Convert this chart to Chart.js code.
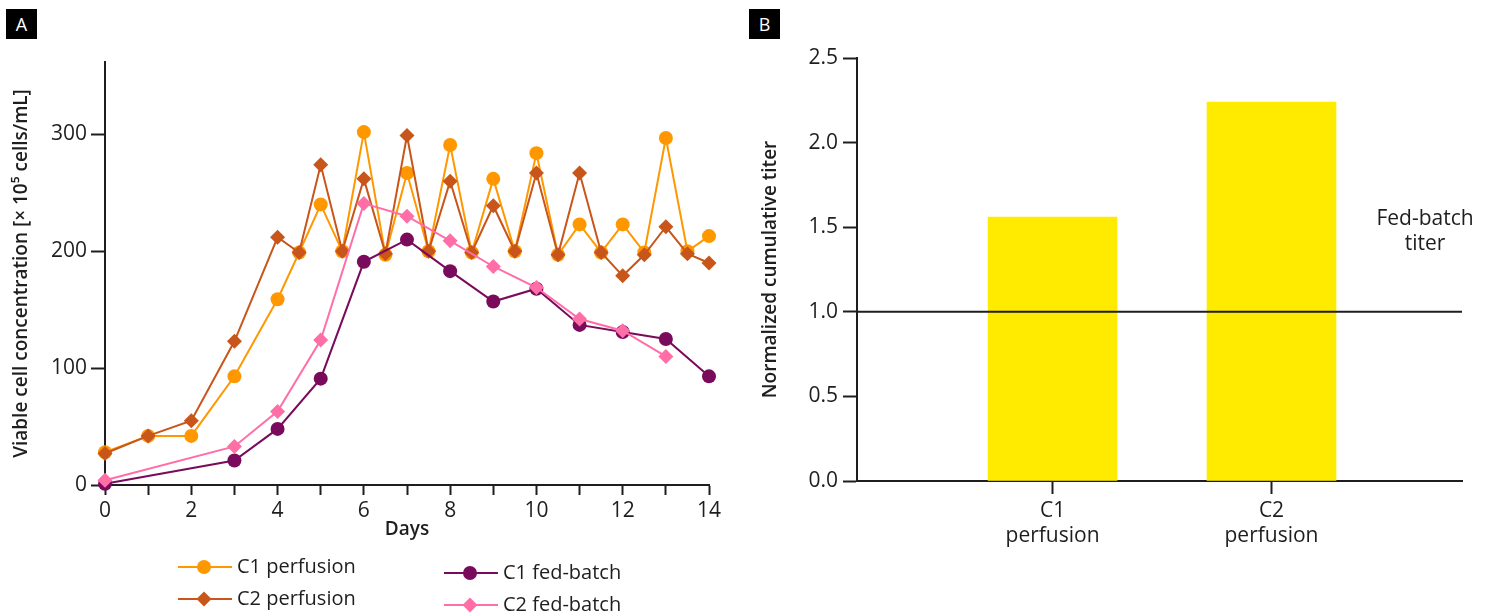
<!DOCTYPE html>
<html>
<head>
<meta charset="utf-8">
<script src="https://cdn.jsdelivr.net/npm/chart.js@4.4.1/dist/chart.umd.min.js"></script>
<style>
  body { margin: 0; background: #fff; width: 1491px; height: 614px; position: relative; overflow: hidden; }
  canvas { position: absolute; top: 0; }
  #chartA { left: 0; }
  #chartB { left: 740px; }
  .tag { position: absolute; top: 9px; width: 31px; height: 30px; background: #000; color: #fff;
         font: 18px "Open Sans", sans-serif; display: flex; align-items: center; justify-content: center; }
</style>
</head>
<body>
<div class="tag" style="left:6px">A</div>
<div class="tag" style="left:749px">B</div>
<canvas id="chartA" width="740" height="614"></canvas>
<canvas id="chartB" width="751" height="614"></canvas>
<script>
// A: viable cell concentration over culture time (x 10^5 cells/mL)
const perfusionDays = [0, 1, 2, 3, 4, 4.5, 5, 5.5, 6, 6.5, 7, 7.5, 8, 8.5, 9, 9.5, 10, 10.5, 11, 11.5, 12, 12.5, 13, 13.5, 14];
const c1Perfusion = [28, 42, 42, 93, 159, 199, 240, 200, 302, 197, 267, 200, 291, 199, 262, 200, 284, 197, 223, 199, 223, 199, 297, 200, 213];
const c2Perfusion = [27, 42, 55, 123, 212, 199, 274, 200, 262, 198, 299, 200, 260, 199, 239, 200, 267, 197, 267, 199, 179, 197, 221, 198, 190];
const c1FedBatchDays = [0, 3, 4, 5, 6, 7, 8, 9, 10, 11, 12, 13, 14];
const c1FedBatch = [1, 21, 48, 91, 191, 210, 183, 157, 168, 137, 131, 125, 93];
const c2FedBatchDays = [0, 3, 4, 5, 6, 7, 8, 9, 10, 11, 12, 13];
const c2FedBatch = [4, 33, 63, 124, 241, 230, 209, 187, 169, 142, 132, 110];
const vccTicks = [0, 100, 200, 300];

// B: cumulative titer normalised to fed-batch
const processes = ['C1 perfusion', 'C2 perfusion'];
const normalizedTiter = [1.56, 2.24];
const fedBatchTiter = 1.0;
const titerTicks = [0, 0.5, 1, 1.5, 2, 2.5];

const ink = '#1e1e1e';
const face = '"Open Sans", "Noto Sans", sans-serif';
Chart.defaults.font.family = face;
Chart.defaults.color = ink;

function series(label, xs, ys, color, style, radius, order) {
  return {
    label: label,
    data: xs.map((x, i) => ({ x: x, y: ys[i] })),
    borderColor: color,
    backgroundColor: color,
    pointBackgroundColor: color,
    borderWidth: 2,
    pointStyle: style,
    pointRadius: radius,
    pointBorderWidth: 0,
    tension: 0,
    clip: false,
    order: order
  };
}

// legend in two staggered columns under the x axis
const seriesLegend = {
  id: 'seriesLegend',
  afterDraw(chart, args, opts) {
    const ctx = chart.ctx;
    ctx.save();
    chart.data.datasets.forEach((ds, i) => {
      const s = opts.slots[i];
      ctx.strokeStyle = ds.borderColor;
      ctx.lineWidth = ds.borderWidth;
      ctx.beginPath();
      ctx.moveTo(s.x, s.y);
      ctx.lineTo(s.x + 54, s.y);
      ctx.stroke();
      ctx.fillStyle = ds.pointBackgroundColor;
      Chart.helpers.drawPoint(ctx, { pointStyle: ds.pointStyle, radius: ds.pointRadius, borderWidth: 0, rotation: 0 }, s.x + 26, s.y);
      ctx.fillStyle = ink;
      ctx.font = '20px ' + face;
      ctx.textBaseline = 'middle';
      ctx.fillText(ds.label, s.x + 59, s.y);
    });
    ctx.restore();
  }
};

new Chart(document.getElementById('chartA'), {
  type: 'line',
  data: {
    datasets: [
      series('C1 perfusion', perfusionDays, c1Perfusion, '#FF9800', 'circle', 7, 4),
      series('C2 perfusion', perfusionDays, c2Perfusion, '#C8551A', 'rectRot', 7.5, 3),
      series('C1 fed-batch', c1FedBatchDays, c1FedBatch, '#7A0A5C', 'circle', 7, 2),
      series('C2 fed-batch', c2FedBatchDays, c2FedBatch, '#FF6EA6', 'rectRot', 7.5, 1)
    ]
  },
  options: {
    responsive: false,
    animation: false,
    events: [],
    layout: { padding: { top: 62, right: 31, bottom: 73, left: 0 } },
    plugins: {
      legend: { display: false },
      tooltip: { enabled: false },
      seriesLegend: {
        slots: [{ x: 178, y: 567 }, { x: 178, y: 599 }, { x: 444, y: 573 }, { x: 444, y: 605 }]
      }
    },
    scales: {
      x: {
        type: 'linear',
        min: 0,
        max: 14,
        afterFit: s => { s.height = 56; },
        grid: { drawOnChartArea: false, tickLength: 10, tickWidth: 2, tickColor: ink },
        border: { color: ink, width: 2 },
        ticks: {
          stepSize: 1, autoSkip: false, maxRotation: 0, padding: 3,
          font: { size: 21 },
          callback: v => (v % 2 === 0 ? v : '')
        },
        title: { display: true, text: 'Days', font: { size: 19, weight: '600' }, padding: { top: 0, bottom: 0 } }
      },
      y: {
        min: 0,
        max: 362,
        afterFit: s => { s.width = 105; },
        afterBuildTicks: s => { s.ticks = vccTicks.map(v => ({ value: v })); },
        grid: { drawOnChartArea: false, tickLength: 14, tickWidth: 2, tickColor: ink },
        border: { color: ink, width: 2 },
        ticks: { padding: 4, font: { size: 21 } },
        title: {
          display: true,
          text: 'Viable cell concentration [× 10⁵ cells/mL]',
          font: { size: 19, weight: '600' },
          padding: { top: 10 }
        }
      }
    }
  },
  plugins: [seriesLegend]
});

// horizontal reference for the fed-batch titer, with its label
const titerLine = {
  id: 'titerLine',
  afterDatasetsDraw(chart, args, opts) {
    const { ctx, chartArea, scales } = chart;
    const py = scales.y.getPixelForValue(opts.value);
    ctx.save();
    ctx.strokeStyle = ink;
    ctx.lineWidth = 2;
    ctx.beginPath();
    ctx.moveTo(chartArea.left, py);
    ctx.lineTo(chartArea.right, py);
    ctx.stroke();
    ctx.fillStyle = ink;
    ctx.font = '21px ' + face;
    ctx.textAlign = 'center';
    ctx.textBaseline = 'middle';
    opts.label.forEach((t, i) => ctx.fillText(t, opts.labelX, py - 93 + i * 25));
    ctx.restore();
  }
};

new Chart(document.getElementById('chartB'), {
  type: 'bar',
  data: {
    datasets: [{
      label: 'Normalized cumulative titer',
      data: processes.map((p, i) => ({ x: i + 1, y: normalizedTiter[i] })),
      backgroundColor: '#FFEB00',
      borderWidth: 0,
      barThickness: 129
    }]
  },
  options: {
    responsive: false,
    animation: false,
    events: [],
    layout: { padding: { top: 58, right: 29, bottom: 63, left: 0 } },
    plugins: {
      legend: { display: false },
      tooltip: { enabled: false },
      titerLine: { value: fedBatchTiter, label: ['Fed-batch', 'titer'], labelX: 685 }
    },
    scales: {
      x: {
        type: 'linear',
        min: 0.107,
        max: 2.87,
        offset: false,
        afterFit: s => { s.height = 70; },
        afterBuildTicks: s => { s.ticks = processes.map((p, i) => ({ value: i + 1 })); },
        grid: { offset: false, drawOnChartArea: false, tickLength: 13, tickWidth: 2, tickColor: ink },
        border: { color: ink, width: 2 },
        ticks: {
          padding: 4, maxRotation: 0, autoSkip: false,
          font: { size: 21, lineHeight: 1.2 },
          callback: v => processes[v - 1].split(' ')
        }
      },
      y: {
        min: 0,
        max: 2.5,
        afterFit: s => { s.width = 117; },
        afterBuildTicks: s => { s.ticks = titerTicks.map(v => ({ value: v })); },
        grid: { drawOnChartArea: false, tickLength: 14, tickWidth: 2, tickColor: ink },
        border: { color: ink, width: 2 },
        ticks: { padding: 5, font: { size: 21 }, callback: v => v.toFixed(1) },
        title: {
          display: true,
          text: 'Normalized cumulative titer',
          font: { size: 19, weight: '600' },
          padding: { top: 19 }
        }
      }
    }
  },
  plugins: [titerLine]
});
</script>
</body>
</html>
